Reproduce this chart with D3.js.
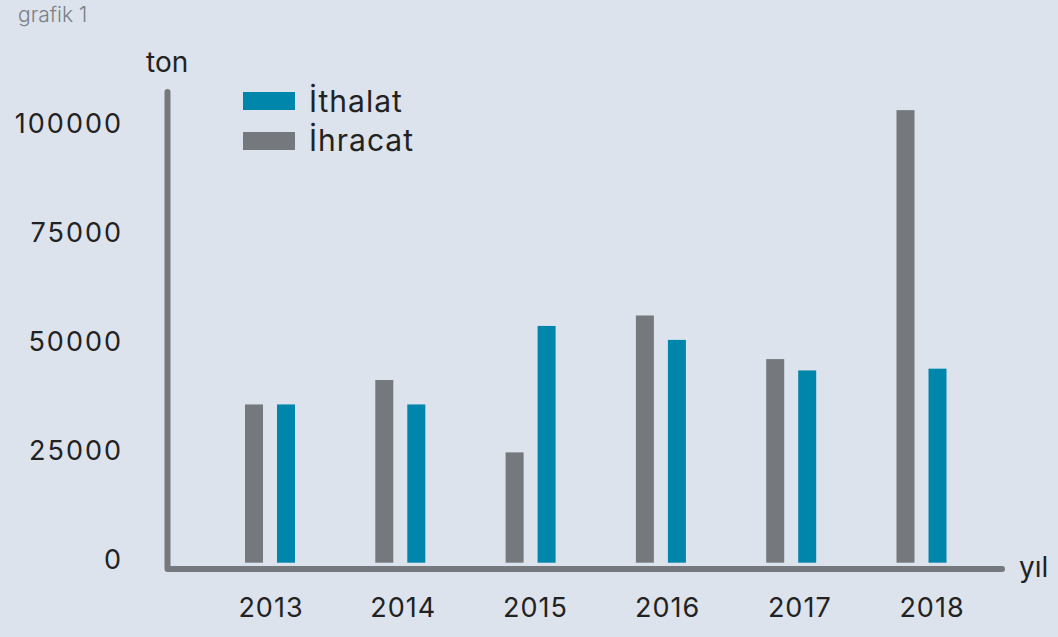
<!DOCTYPE html>
<html><head><meta charset="utf-8">
<script src="https://cdn.jsdelivr.net/npm/d3@7"></script>
<style>
html,body{margin:0;padding:0;background:#dce3ed;}
svg{display:block;font-family:Inter,"Open Sans",sans-serif;}
</style></head>
<body><svg id="c" width="1058" height="637"></svg>
<script>
const years = ["2013","2014","2015","2016","2017","2018"];
const ithalat = [36300, 36300, 54300, 51100, 44100, 44500];
const ihracat = [36300, 41900, 25300, 56700, 46700, 103800];
const yTicks = [0, 25000, 50000, 75000, 100000];
const seriesNames = ["İthalat", "İhracat"];
const colors = {"İthalat":"#0085ab", "İhracat":"#75797d"};

const svg = d3.select("#c");
svg.append("rect").attr("width",1058).attr("height",637).attr("fill","#dce3ed");

const y = d3.scaleLinear().domain([0,100000]).range([562.7,126.7]);
const x = d3.scaleBand().domain(years).range([204.85, 986.65]).paddingInner(0).paddingOuter(0);
const xLab = d3.scalePoint().domain(years).range([271, 932]);
const barW = 18, gap = 14;

// title
svg.append("text").attr("x",18).attr("y",22).attr("font-size",21).attr("font-weight",300)
  .attr("fill","#7a7f84").text("grafik 1");

// axes lines
svg.append("path").attr("d",`M167.5,92 L167.5,569 L1002,569`).attr("fill","none")
  .attr("stroke","#75797d").attr("stroke-width",6).attr("stroke-linecap","round").attr("stroke-linejoin","round");

// y tick labels
svg.append("g").selectAll("text").data(yTicks).join("text")
  .attr("x",123).attr("y",d=>y(d)-3).attr("dy","0.36em").attr("text-anchor","end")
  .attr("font-size",27).attr("fill","#222").attr("letter-spacing",2).text(d=>d);

svg.append("text").attr("x",146).attr("y",72).attr("font-size",28).attr("fill","#222").text("ton");
svg.append("text").attr("x",1019).attr("y",577).attr("font-size",28).attr("fill","#222").text("yıl");

// x labels
svg.append("g").selectAll("text").data(years).join("text")
  .attr("x",d=>xLab(d)).attr("y",617).attr("text-anchor","middle")
  .attr("font-size",27).attr("fill","#222").attr("letter-spacing",1).text(d=>d);

// bars
const g = svg.append("g");
g.selectAll(".gr").data(years).join("rect")
  .attr("x",(d)=>x(d)+x.bandwidth()/2 - gap/2 - barW)
  .attr("y",(d,i)=>y(ihracat[i])).attr("width",barW)
  .attr("height",(d,i)=>y(0)-y(ihracat[i])).attr("fill",colors["İhracat"]);
g.selectAll(".bl").data(years).join("rect")
  .attr("x",(d)=>x(d)+x.bandwidth()/2 + gap/2)
  .attr("y",(d,i)=>y(ithalat[i])).attr("width",barW)
  .attr("height",(d,i)=>y(0)-y(ithalat[i])).attr("fill",colors["İthalat"]);

// legend
const lg = svg.append("g");
seriesNames.forEach((s,i)=>{
  lg.append("rect").attr("x",243).attr("y",92+i*40).attr("width",52).attr("height",18).attr("fill",colors[s]);
  lg.append("text").attr("x",309).attr("y",112+i*38.5).attr("font-size",30).attr("letter-spacing",1).attr("fill","#222").text(s);
});
</script></body></html>
